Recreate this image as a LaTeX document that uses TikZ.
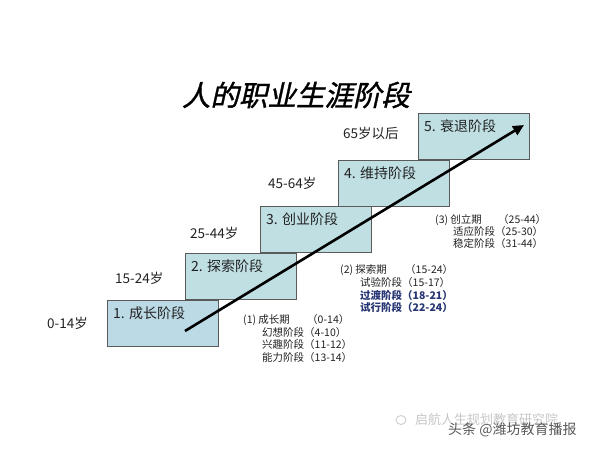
\documentclass[tikz,border=0pt]{standalone}
\usepackage{fontspec}
\setmainfont{Noto Sans CJK SC}
\newfontfamily\titlefont[FakeSlant=0.22,FakeBold=1.2]{Noto Sans CJK SC}
\usetikzlibrary{arrows.meta}
\definecolor{boxfill}{HTML}{BFDFE3}
\definecolor{boxfillA}{HTML}{BCDAE6}
\definecolor{boxline}{HTML}{5A5A5A}
\definecolor{navy}{HTML}{263573}
\definecolor{txt}{HTML}{222222}
\begin{document}
\begin{tikzpicture}[x=1pt,y=-1pt,
  stagebox/.style={draw=boxline,line width=1pt,fill=boxfill,minimum width=111pt,minimum height=46pt,anchor=north west,inner sep=0pt},
  stagetext/.style={anchor=west,inner sep=0pt,text=txt,font=\fontsize{14}{16}\selectfont},
  agetext/.style={anchor=west,inner sep=0pt,text=txt,font=\fontsize{13.5}{15}\selectfont},
  listtext/.style={anchor=west,inner sep=0pt,text=txt,font=\fontsize{10.5}{12}\selectfont},
  listbold/.style={listtext,text=navy,font=\fontsize{10.5}{12}\selectfont\bfseries},
  arr/.style={line width=2.6pt,-{Triangle[length=11pt,width=10pt]}}]
\useasboundingbox (0,0) rectangle (600,448);
\fill[white] (0,0) rectangle (600,448);
% title
\node[inner sep=0pt,text=black,font=\titlefont\fontsize{28.5}{30}\selectfont] (title) at (296,95) {人的职业生涯阶段};
% boxes
\node[stagebox,fill=boxfillA] (b1) at (107,300) {};
\node[stagebox] (b2) at (185,253) {};
\node[stagebox] (b3) at (260,206) {};
\node[stagebox] (b4) at (338,160) {};
\node[stagebox] (b5) at (418,113) {};
\node[stagetext] (t1) at (113,313) {1. 成长阶段};
\node[stagetext] (t2) at (191,266) {2. 探索阶段};
\node[stagetext] (t3) at (266,219) {3. 创业阶段};
\node[stagetext] (t4) at (344,173) {4. 维持阶段};
\node[stagetext] (t5) at (424,126) {5. 衰退阶段};
% ages
\node[agetext] (a1) at (47,323) {0-14岁};
\node[agetext] (a2) at (115,278) {15-24岁};
\node[agetext] (a3) at (190,233) {25-44岁};
\node[agetext] (a4) at (268,183) {45-64岁};
\node[agetext] (a5) at (343,133) {65岁以后};
% arrow
\coordinate (as) at (185,331);
\coordinate (ae) at (524,125);
\draw[arr] (as) -- (ae);
% list 1
\node[listtext] (l1a) at (243,320) {(1) 成长期};
\node[listtext] (l1b) at (307,320) {（0-14）};
\node[listtext] (l1c) at (262,332.5) {幻想阶段（4-10）};
\node[listtext] (l1d) at (262,345) {兴趣阶段（11-12）};
\node[listtext] (l1e) at (262,357.5) {能力阶段（13-14）};
% list 2
\node[listtext] (l2a) at (340,270) {(2) 探索期};
\node[listtext] (l2b) at (405,270) {（15-24）};
\node[listtext] (l2c) at (360,282.5) {试验阶段（15-17）};
\node[listbold] (l2d) at (360,295) {过渡阶段（18-21）};
\node[listbold] (l2e) at (360,307.5) {试行阶段（22-24）};
% list 3
\node[listtext] (l3a) at (435,220) {(3) 创立期};
\node[listtext] (l3b) at (498,220) {（25-44）};
\node[listtext] (l3c) at (453,232) {适应阶段（25-30）};
\node[listtext] (l3d) at (453,244) {稳定阶段（31-44）};
% watermark
\draw[black!18,line width=1pt] (401,420) ellipse (5pt and 4.5pt);
\node[anchor=west,inner sep=0pt,text=black!22,font=\fontsize{13}{15}\selectfont] (wm1) at (415,420) {启航人生规划教育研究院};
\node[anchor=west,inner sep=0pt,text=black!65,font=\fontsize{14}{16}\selectfont] (wm2) at (448,430) {头条 @潍坊教育播报};
\end{tikzpicture}
\end{document}
